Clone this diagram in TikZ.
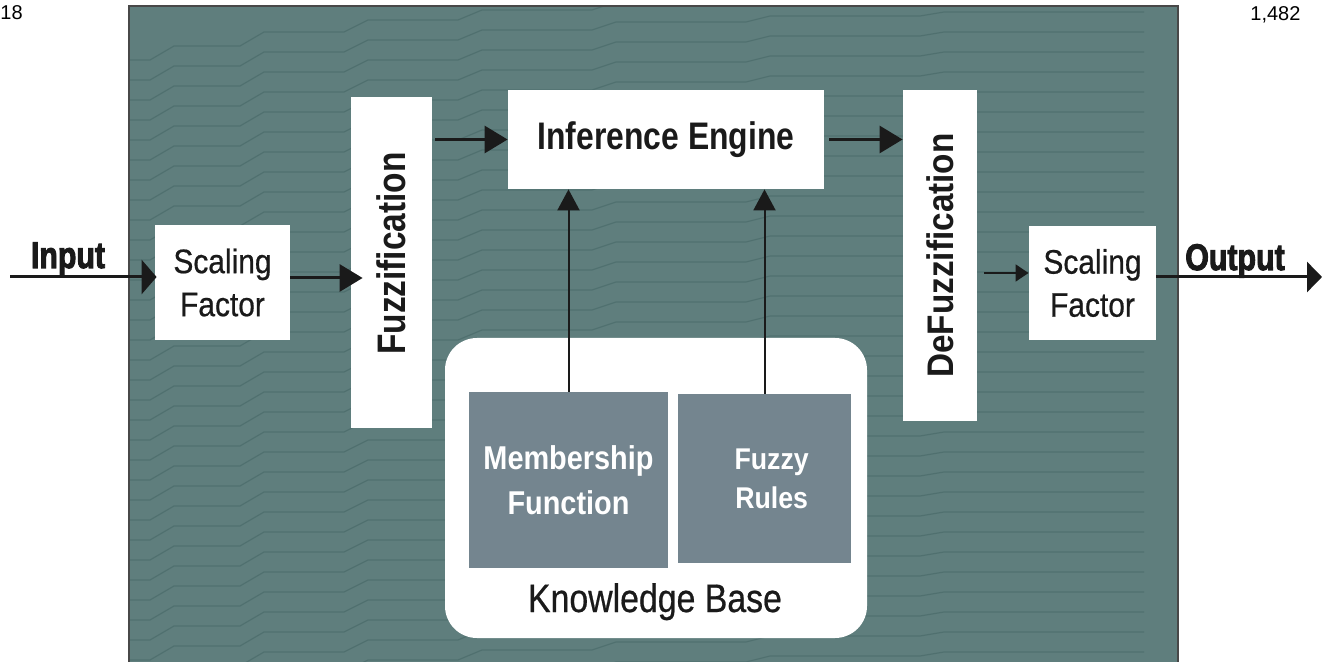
\documentclass[tikz,border=0pt]{standalone}
\usepackage{fontspec}
\usepackage{graphicx}
\setmainfont{Liberation Sans}
\newfontfamily\heavyfont{Liberation Sans}[BoldFeatures={FakeBold=3}]
\newfontfamily\mediumfont{Liberation Sans}[UprightFeatures={FakeBold=0.6}]
\usetikzlibrary{arrows.meta}

\definecolor{panel}{HTML}{5F7E7D}
\definecolor{tracecol}{HTML}{3F6160}
\definecolor{kbox}{HTML}{74858F}
\definecolor{ink}{HTML}{1A1A1A}

% one line of horizontally condensed text
\newcommand{\narrowline}[2]{\scalebox{#1}[1]{#2}}
% two centred lines of condensed text with a fixed baseline distance
\newcommand{\narrowpair}[4]{\scalebox{#1}[1]{\vbox{\baselineskip=#2\relax\lineskiplimit=-100pt\relax
  \halign{\hfil##\hfil\cr #3\cr #4\cr}}}}

\begin{document}
\begin{tikzpicture}[x=0.5pt,y=-0.5pt,
  box/.style={fill=white, inner sep=0pt, text=ink},
  kbitem/.style={fill=kbox, inner sep=0pt, text=white},
  tracestyle/.style={draw=tracecol, line width=0.6pt, opacity=0.45},
  bigarrow/.style={draw=ink, line width=1.5pt, -{Triangle[length=11.5pt,width=13.5pt]}},
  inarrow/.style={draw=ink, line width=1.5pt, -{Triangle[length=7.5pt,width=17pt]}},
  outarrow/.style={draw=ink, line width=1.5pt, -{Triangle[length=7.5pt,width=15pt]}},
  thinarrow/.style={draw=ink, line width=0.75pt, -{Triangle[length=6.5pt,width=8.5pt]}},
  uparrow/.style={draw=ink, line width=1pt, -{Triangle[length=10.5pt,width=11pt]}},
  scalefont/.style={font=\mediumfont\fontsize{17}{20}\selectfont},
  tagfont/.style={font=\heavyfont\bfseries\fontsize{18.5}{22}\selectfont, text=ink, inner sep=0pt}]

\useasboundingbox (0,0) rectangle (1328,662);

% textured background panel
\fill[panel] (129,6) rectangle (1178,662);
\begin{scope}
  \clip (129,6) rectangle (1178,662);
  \foreach \k in {0,...,34}{
    \draw[tracestyle] (110,60+20*\k) -- ++(40,0) -- ++(24,-14) -- ++(66,0) -- ++(24,-14)
      -- ++(80,0) -- ++(24,-12) -- ++(90,0) -- ++(24,-10) -- ++(110,0) -- ++(24,-8)
      -- ++(130,0) -- ++(24,-6) -- ++(150,0) -- ++(24,-4) -- ++(200,0);
  }
\end{scope}
\draw[ink!80, line width=0.8pt] (129,662) -- (129,6) -- (1178,6) -- (1178,662);

% page header fragments
\node[anchor=base west, inner sep=0pt, font=\fontsize{10}{12}\selectfont] (pgl) at (0,20) {18};
\node[anchor=base west, inner sep=0pt, font=\fontsize{10}{12}\selectfont] (pgr) at (1250,21) {1,482};

% processing blocks
\node[box, scalefont, minimum width=67.5pt, minimum height=57.5pt] (sf1) at (222.5,282.5)
  {\narrowpair{0.88}{21.5pt}{Scaling}{Factor}};
\node[box, font=\bfseries\fontsize{19.9}{24}\selectfont, minimum width=40.5pt, minimum height=165.5pt] (fz) at (391.5,262.5)
  {\rotatebox{90}{\narrowline{0.84}{\kern10.7pt Fuzzification}}};
\node[box, font=\bfseries\fontsize{19.2}{23}\selectfont, minimum width=158pt, minimum height=49.5pt] (ie) at (666,139.5)
  {\narrowline{0.83}{Inference Engine}};
\node[box, font=\bfseries\fontsize{18.5}{22}\selectfont, minimum width=37pt, minimum height=165.5pt] (df) at (940,255.5)
  {\rotatebox{90}{\narrowline{0.9}{DeFuzzification}}};
\node[box, scalefont, minimum width=63.5pt, minimum height=57pt] (sf2) at (1092.5,283)
  {\narrowpair{0.88}{21.5pt}{Scaling}{Factor}};

% knowledge base with its two stores
\node[fill=white, rounded corners=16pt, inner sep=0pt, minimum width=211pt, minimum height=150pt] (kb) at (656,488) {};
\node[kbitem, font=\bfseries\fontsize{16.5}{20}\selectfont, minimum width=99.5pt, minimum height=88pt] (mf) at (568.5,480)
  {\narrowpair{0.875}{22.5pt}{Membership}{Function}};
\node[kbitem, font=\bfseries\fontsize{15}{18}\selectfont, minimum width=86.5pt, minimum height=84.5pt] (fr) at (764.5,478.5)
  {\narrowpair{0.89}{19.5pt}{\kern8pt Fuzzy}{\kern8pt Rules}};
\node[anchor=base, inner sep=0pt, text=ink, font=\mediumfont\fontsize{19.9}{24}\selectfont] (kbl) at (655,612)
  {\narrowline{0.85}{Knowledge Base}};

% signal flow
\coordinate (src) at (10,277);
\coordinate (snk) at (1322,277);
\coordinate (rowA) at (0,278);
\coordinate (rowB) at (0,273);
\draw[inarrow, shorten >=-1pt] (src) -- (src -| sf1.west);
\draw[bigarrow, shorten >=-6pt] (sf1.east |- rowA) -- (fz.west |- rowA);
\draw[bigarrow, shorten <=1.5pt] (fz.east |- ie.west) -- (ie.west);
\draw[bigarrow, shorten <=2.5pt] (ie.east) -- (ie.east -| df.west);
\draw[thinarrow, shorten <=3.5pt] (df.east |- rowB) -- (sf2.west |- rowB);
\draw[outarrow] (sf2.east |- snk) -- (snk);
\draw[uparrow] (mf.north) -- (mf.north |- ie.south);
\draw[uparrow] (fr.north) -- (fr.north |- ie.south);

% input and output tags
\node[tagfont, anchor=base] (inlbl) at (68,268) {\narrowline{0.82}{Input}};
\node[tagfont, anchor=base] (outlbl) at (1235,270) {\narrowline{0.82}{Output}};

\end{tikzpicture}
\end{document}
